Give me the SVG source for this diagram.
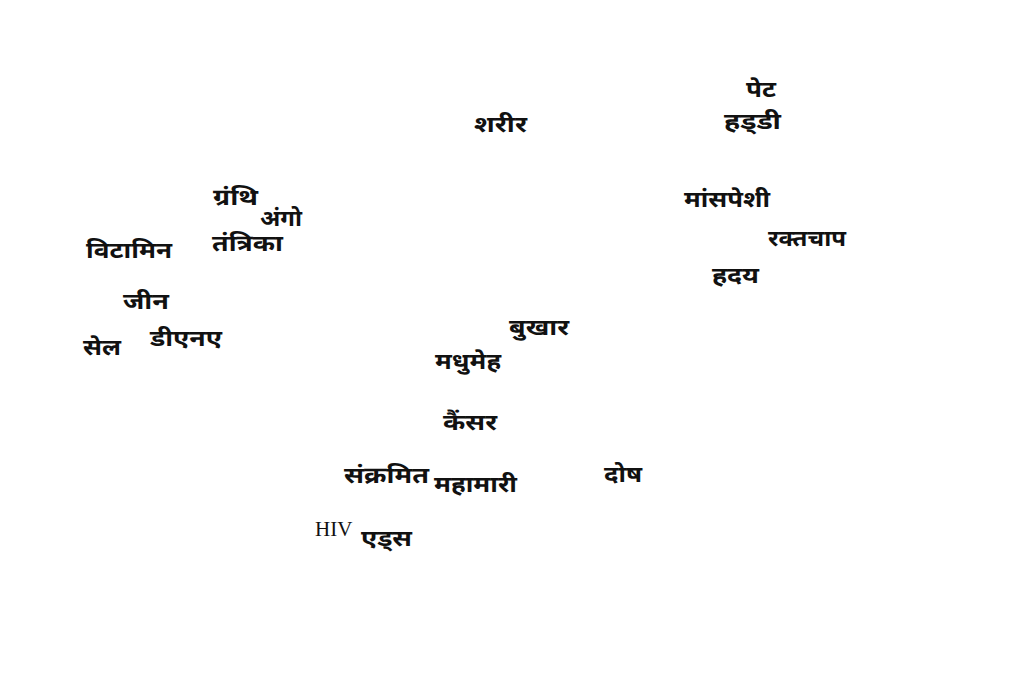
<svg xmlns="http://www.w3.org/2000/svg" width="1024" height="682" viewBox="0 0 1024 682">
<style>
.w{font-family:"Noto Sans Devanagari","Noto Serif Devanagari","Lohit Devanagari","Mangal","Noto Sans",sans-serif;font-size:23px;font-weight:bold;fill:#111}
.e{font-family:"Liberation Serif",serif;font-size:21px;fill:#111}
</style>
<rect width="1024" height="682" fill="#fff"/>
<g id="words">
<text id="pet" class="w" x="746" y="97" textLength="30" lengthAdjust="spacingAndGlyphs">पेट</text>
<text id="haddi" class="w" x="724" y="129" textLength="57" lengthAdjust="spacingAndGlyphs">हड्&#x200C;डी</text>
<text id="sharir" class="w" x="474" y="132" textLength="53" lengthAdjust="spacingAndGlyphs">शरीर</text>
<text id="maanspeshi" class="w" x="684" y="207" textLength="86" lengthAdjust="spacingAndGlyphs">मांसपेशी</text>
<text id="raktchap" class="w" x="768" y="246" textLength="78" lengthAdjust="spacingAndGlyphs">रक्तचाप</text>
<text id="hriday" class="w" x="712" y="283" textLength="47" lengthAdjust="spacingAndGlyphs">हदय</text>
<text id="granthi" class="w" x="213" y="205" textLength="45" lengthAdjust="spacingAndGlyphs">ग्रंथि</text>
<text id="ango" class="w" x="260" y="226" textLength="42" lengthAdjust="spacingAndGlyphs">अंगो</text>
<text id="tantrika" class="w" x="212" y="251" textLength="71" lengthAdjust="spacingAndGlyphs">तंत्रिका</text>
<text id="vitamin" class="w" x="86" y="258" textLength="86" lengthAdjust="spacingAndGlyphs">विटामिन</text>
<text id="jeen" class="w" x="123" y="309" textLength="46" lengthAdjust="spacingAndGlyphs">जीन</text>
<text id="sel" class="w" x="83" y="355" textLength="38" lengthAdjust="spacingAndGlyphs">सेल</text>
<text id="dna" class="w" x="150" y="346" textLength="72" lengthAdjust="spacingAndGlyphs">डीएनए</text>
<text id="bukhar" class="w" x="509" y="335" textLength="60" lengthAdjust="spacingAndGlyphs">बुखार</text>
<text id="madhumeh" class="w" x="435" y="369" textLength="66" lengthAdjust="spacingAndGlyphs">मधुमेह</text>
<text id="cancer" class="w" x="443" y="430" textLength="54" lengthAdjust="spacingAndGlyphs">कैंसर</text>
<text id="sankramit" class="w" x="344" y="483" textLength="85" lengthAdjust="spacingAndGlyphs">संक्रमित</text>
<text id="mahamari" class="w" x="434" y="492" textLength="83" lengthAdjust="spacingAndGlyphs">महामारी</text>
<text id="dosh" class="w" x="604" y="482" textLength="38" lengthAdjust="spacingAndGlyphs">दोष</text>
<text id="hiv" class="e" x="315" y="536">HIV</text>
<text id="aids" class="w" x="361" y="546" textLength="51" lengthAdjust="spacingAndGlyphs">एड्स</text>
</g>
</svg>
